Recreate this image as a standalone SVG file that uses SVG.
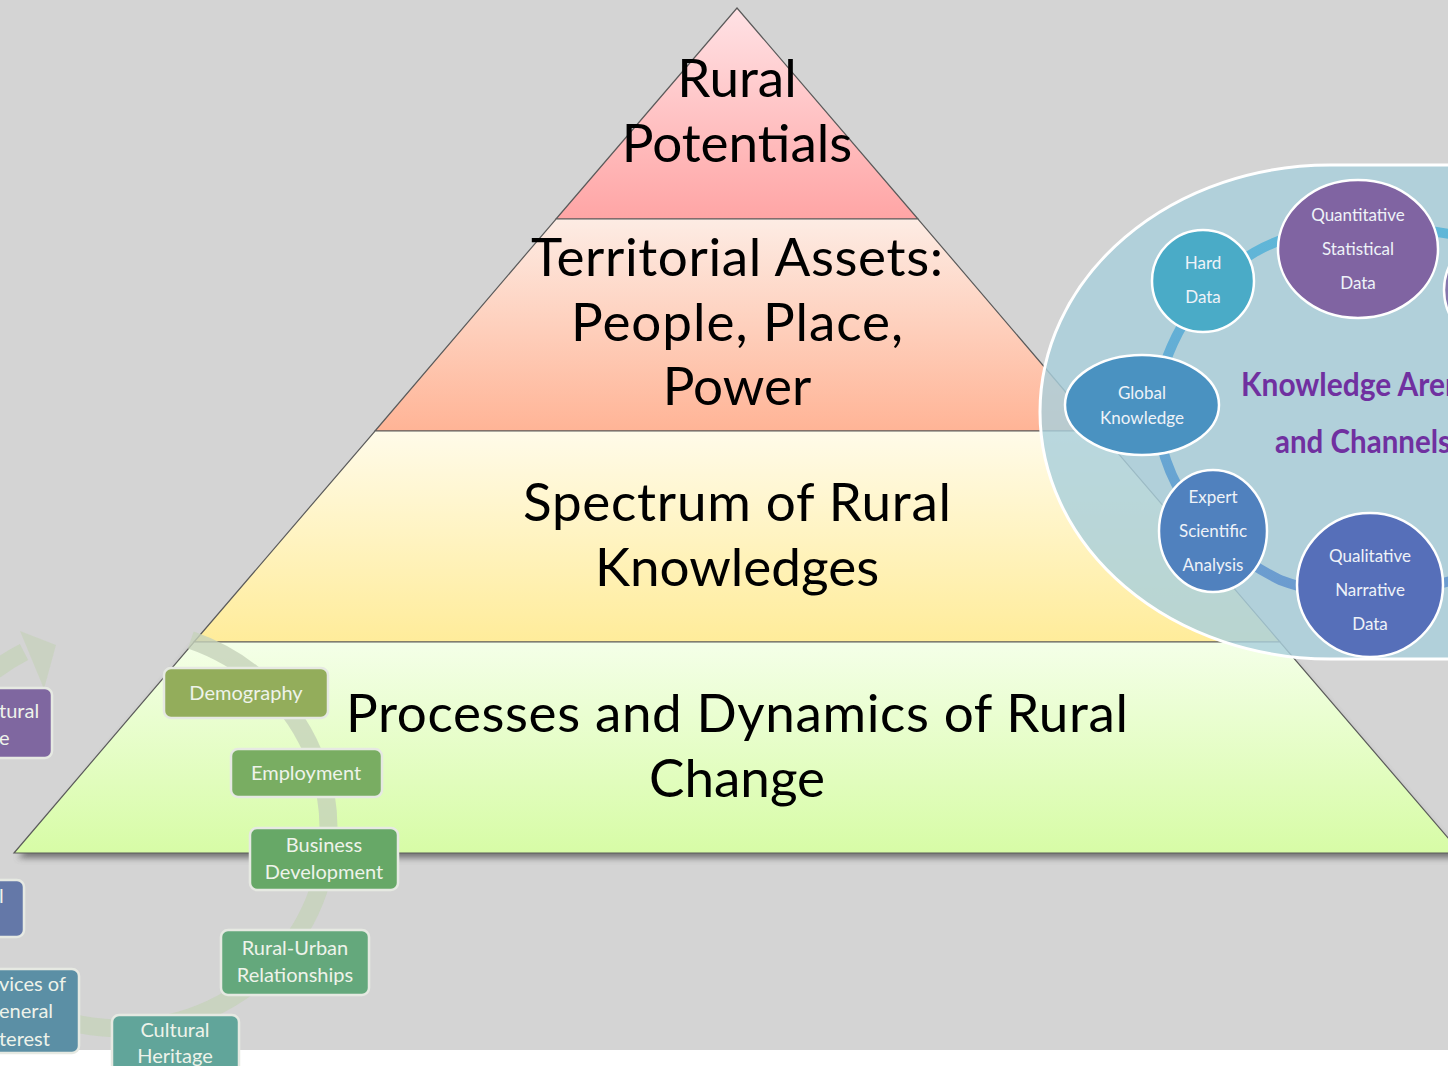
<svg xmlns="http://www.w3.org/2000/svg" width="1448" height="1066" viewBox="0 0 1448 1066">
<defs>
<linearGradient id="g1" x1="0" y1="0" x2="0" y2="1"><stop offset="0" stop-color="#ffe2e5"/><stop offset="1" stop-color="#ffa5a5"/></linearGradient>
<linearGradient id="g2" x1="0" y1="0" x2="0" y2="1"><stop offset="0" stop-color="#fdece4"/><stop offset="1" stop-color="#ffb496"/></linearGradient>
<linearGradient id="g3" x1="0" y1="0" x2="0" y2="1"><stop offset="0" stop-color="#fffbe9"/><stop offset="1" stop-color="#ffec9a"/></linearGradient>
<linearGradient id="g4" x1="0" y1="0" x2="0" y2="1"><stop offset="0" stop-color="#f4ffe8"/><stop offset="1" stop-color="#d7fca6"/></linearGradient>
<linearGradient id="ringg" x1="0" y1="0" x2="0" y2="1"><stop offset="0" stop-color="#5fb7d8"/><stop offset="1" stop-color="#6c9bcf"/></linearGradient>
<filter id="shadow" x="-5%" y="-5%" width="110%" height="110%"><feGaussianBlur stdDeviation="3"/></filter>
<style>
.layer{stroke:#5a5a5a;stroke-width:1.2}
.big{font-family:Lato,"Liberation Sans",sans-serif;font-size:53px;fill:#000;text-anchor:middle}
.box{stroke:#e6e9e2;stroke-width:2.5}
.bt{font-family:Lato,"Liberation Sans",sans-serif;font-size:20px;fill:#eef3ea;text-anchor:middle}
.bl{font-family:Lato,"Liberation Sans",sans-serif;font-size:20px;fill:#eef3ea}
.circ{stroke:#ffffff;stroke-width:2.5}
.ct{font-family:Lato,"Liberation Sans",sans-serif;font-size:17px;fill:#eef2f8;text-anchor:middle}
.ka{font-family:Lato,"Liberation Sans",sans-serif;font-size:32px;font-weight:bold;fill:#7030a0}
</style>
</defs>
<rect x="0" y="0" width="1448" height="1066" fill="#ffffff"/>
<rect x="0" y="0" width="1448" height="1050" fill="#d4d4d4"/>

<g id="pyramid">
<polygon points="194,647 1280,647 1461,858 18,858" fill="#555" opacity="0.75" filter="url(#shadow)"/>
<polygon class="layer" points="737,8 918,219 556,219" fill="url(#g1)"/>
<polygon class="layer" points="556,219 918,219 1099,431 375,431" fill="url(#g2)"/>
<polygon class="layer" points="375,431 1099,431 1280,642 194,642" fill="url(#g3)"/>
<polygon class="layer" points="194,642 1280,642 1461,853 14,853" fill="url(#g4)"/>
</g>

<g id="connectors">
<path d="M190.8 640 A207 200 0 1 1 24 652" fill="none" stroke="#c6d2ba" stroke-opacity="0.8" stroke-width="18"/>
<polygon points="20,631 56,645 44,689" fill="#c6d2ba" fill-opacity="0.7"/>
</g>

<g id="pyramid-text">
<text class="big" x="737" y="97">Rural</text>
<text class="big" x="737" y="162">Potentials</text>
<text class="big" x="737" y="276" textLength="412" lengthAdjust="spacing">Territorial Assets:</text>
<text class="big" x="737" y="341" textLength="332" lengthAdjust="spacing">People, Place,</text>
<text class="big" x="737" y="405">Power</text>
<text class="big" x="737" y="521" textLength="428" lengthAdjust="spacing">Spectrum of Rural</text>
<text class="big" x="737" y="586">Knowledges</text>
<text class="big" x="737" y="732" textLength="782" lengthAdjust="spacing">Processes and Dynamics of Rural</text>
<text class="big" x="737" y="797">Change</text>
</g>

<g id="n-tural"><rect class="box" x="-100" y="688" width="152" height="70" rx="7" fill="#7f67a0"/><text class="bl" x="-1" y="718">tural</text><text class="bl" x="-1" y="745">e</text></g>
<g id="n-demography"><rect class="box" x="164" y="668" width="164" height="50" rx="7" fill="#93ad5b"/><text class="bt" x="246" y="700">Demography</text></g>
<g id="n-employment"><rect class="box" x="231" y="749" width="151" height="48" rx="7" fill="#79ad62"/><text class="bt" x="306" y="780">Employment</text></g>
<g id="n-business"><rect class="box" x="250" y="828" width="148" height="62" rx="7" fill="#67a867"/><text class="bt" x="324" y="852">Business</text><text class="bt" x="324" y="879">Development</text></g>
<g id="n-l"><rect class="box" x="-150" y="880" width="174" height="57" rx="7" fill="#6478a8"/><text class="bl" x="-1" y="903">l</text></g>
<g id="n-ruralurban"><rect class="box" x="221" y="930" width="148" height="65" rx="7" fill="#64a87c"/><text class="bt" x="295" y="955">Rural-Urban</text><text class="bt" x="295" y="982">Relationships</text></g>
<g id="n-services"><rect class="box" x="-50" y="969" width="129" height="84" rx="7" fill="#5b8fa5"/><text class="bl" x="-1" y="991">vices of</text><text class="bl" x="-1" y="1018">eneral</text><text class="bl" x="-1" y="1046">terest</text></g>
<g id="n-cultural"><rect class="box" x="112" y="1015" width="127" height="62" rx="7" fill="#61a59a"/><text class="bt" x="175" y="1037">Cultural</text><text class="bt" x="175" y="1063">Heritage</text></g>

<g id="knowledge-arena">
<path d="M1040 412 A290 247 0 0 1 1330 165 L1520 165 L1520 659 L1330 659 A290 247 0 0 1 1040 412 Z" fill="#a9d0dc" fill-opacity="0.82" stroke="#ffffff" stroke-width="3"/>
<path d="M1460 236 Q1330 210 1255 252 Q1175 300 1155 400 Q1160 520 1280 580 Q1360 610 1460 578" fill="none" stroke="url(#ringg)" stroke-width="10"/>
<text class="ka" x="1241" y="396" textLength="236" lengthAdjust="spacingAndGlyphs">Knowledge Arena</text>
<text class="ka" x="1275" y="453" textLength="176" lengthAdjust="spacingAndGlyphs">and Channels</text>
</g>

<g id="n-hard"><circle class="circ" cx="1203" cy="281" r="51" fill="#4aabc7"/><text class="ct" x="1203" y="269">Hard</text><text class="ct" x="1203" y="303">Data</text></g>
<g id="n-quant"><ellipse class="circ" cx="1358" cy="249" rx="80" ry="69" fill="#8064a2"/><text class="ct" x="1358" y="221">Quantitative</text><text class="ct" x="1358" y="255">Statistical</text><text class="ct" x="1358" y="289">Data</text></g>
<g id="n-right"><ellipse class="circ" cx="1515" cy="290" rx="71" ry="62" fill="#8577ad"/></g>
<g id="n-global"><ellipse class="circ" cx="1142" cy="405" rx="77" ry="50" fill="#4a92c1"/><text class="ct" x="1142" y="399">Global</text><text class="ct" x="1142" y="424">Knowledge</text></g>
<g id="n-expert"><ellipse class="circ" cx="1213" cy="531" rx="54" ry="61" fill="#5081be"/><text class="ct" x="1213" y="503">Expert</text><text class="ct" x="1213" y="537">Scientific</text><text class="ct" x="1213" y="571">Analysis</text></g>
<g id="n-qual"><ellipse class="circ" cx="1370" cy="585" rx="73" ry="72" fill="#566fb9"/><text class="ct" x="1370" y="562">Qualitative</text><text class="ct" x="1370" y="596">Narrative</text><text class="ct" x="1370" y="630">Data</text></g>
</svg>
